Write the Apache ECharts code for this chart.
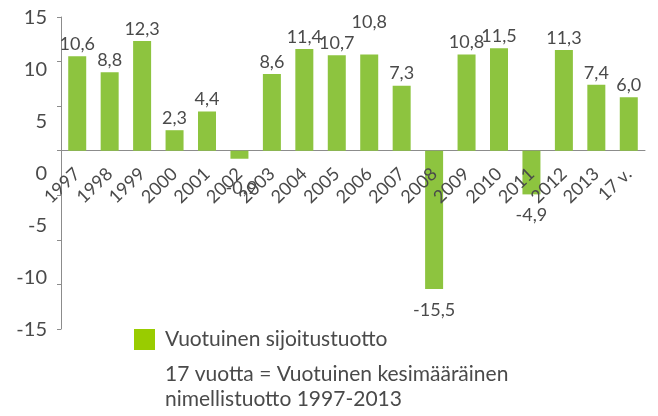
<!DOCTYPE html>
<html>
<head>
<meta charset="utf-8">
<script src="https://cdn.jsdelivr.net/npm/echarts@6/dist/echarts.min.js"></script>
<style>
  html, body { margin: 0; padding: 0; background: #fff; }
  #chart { width: 658px; height: 416px; }
</style>
</head>
<body>
<div id="chart"></div>
<script>
const categories = ['1997', '1998', '1999', '2000', '2001', '2002', '2003', '2004', '2005',
  '2006', '2007', '2008', '2009', '2010', '2011', '2012', '2013', '17 v.'];
const returns = [10.6, 8.8, 12.3, 2.3, 4.4, -0.9, 8.6, 11.4, 10.7,
  10.8, 7.3, -15.5, 10.8, 11.5, -4.9, 11.3, 7.4, 6.0];
const tickLabels = [-15, -10, -5, 0, 5, 10, 15];
const seriesName = 'Vuotuinen sijoitustuotto';
const noteLines = ['17 vuotta = Vuotuinen kesimääräinen', 'nimellistuotto 1997-2013'];

const FONT = 'Lato';
const TEXT = '#4a4a4a';
const AXIS = '#8c8c8c';

const fmt = v => (v.toFixed(1)).replace('.', ',');

// a couple of labels were nudged by hand in the original
const labelShift = { '2006': [0, -20], '2002': [2, 8] };

const barData = returns.map((v, i) => {
  const item = { value: v };
  item.label = {
    position: v < 0 ? 'bottom' : 'top',
    distance: v < 0 ? 12 : 3
  };
  if (labelShift[categories[i]]) item.label.offset = labelShift[categories[i]];
  return item;
});

const chart = echarts.init(document.getElementById('chart'));

const gridBox = (bottom, top) => ({
  left: 61, right: 13, top: top, bottom: bottom,
  containLabel: false, outerBoundsMode: 'none'
});

chart.setOption({
  animation: false,
  textStyle: { fontFamily: FONT },
  grid: [
    gridBox(87, 17),   // bars
    gridBox(86, 18),   // free-standing value labels, as in the original
    gridBox(257, 17)   // only carries the year labels, a little under the zero line
  ],
  xAxis: [
    {
      type: 'category',
      gridIndex: 0,
      data: categories,
      axisLine: { onZero: true, lineStyle: { color: AXIS, width: 1 } },
      axisTick: { show: false },
      axisLabel: { show: false }
    },
    { type: 'category', gridIndex: 1, data: categories, show: false },
    {
      type: 'category',
      gridIndex: 2,
      data: categories,
      z: 5,
      axisLine: { show: false },
      axisTick: { show: false },
      axisLabel: {
        interval: 0, rotate: 44, margin: 12, hideOverlap: false,
        color: TEXT, fontSize: 18, fontFamily: FONT
      }
    }
  ],
  yAxis: [
    {
      type: 'value',
      gridIndex: 0,
      min: -20, max: 15, interval: 5,
      axisLine: { show: true, lineStyle: { color: AXIS, width: 1 } },
      axisTick: { show: true, length: 4, lineStyle: { color: AXIS } },
      axisLabel: { show: false },
      splitLine: { show: false }
    },
    {
      type: 'value',
      gridIndex: 1,
      min: tickLabels[0], max: tickLabels[tickLabels.length - 1], interval: 5,
      axisLine: { show: false },
      axisTick: { show: false },
      splitLine: { show: false },
      axisLabel: {
        margin: 14, color: TEXT, fontSize: 20, fontFamily: FONT,
        formatter: v => String(v)
      }
    },
    { type: 'value', gridIndex: 2, show: false, splitLine: { show: false } }
  ],
  legend: {
    left: 129, top: 324,
    itemWidth: 21, itemHeight: 21, itemGap: 10,
    icon: 'rect',
    data: [{ name: seriesName, itemStyle: { color: '#99cc00' } }],
    textStyle: { color: TEXT, fontSize: 21, fontFamily: FONT, padding: [0, 0, 0, 5] }
  },
  series: [{
    name: seriesName,
    type: 'bar',
    xAxisIndex: 0,
    yAxisIndex: 0,
    barWidth: 18,
    data: barData,
    itemStyle: { color: '#8dc43f' },
    label: {
      show: true,
      color: TEXT, fontSize: 18, fontFamily: FONT,
      formatter: p => fmt(p.value)
    }
  }],
  graphic: noteLines.map((t, i) => ({
    type: 'text',
    left: 165,
    top: 364 + i * 25,
    style: { text: t, fill: TEXT, fontSize: 21, fontFamily: FONT }
  }))
});
</script>
</body>
</html>
